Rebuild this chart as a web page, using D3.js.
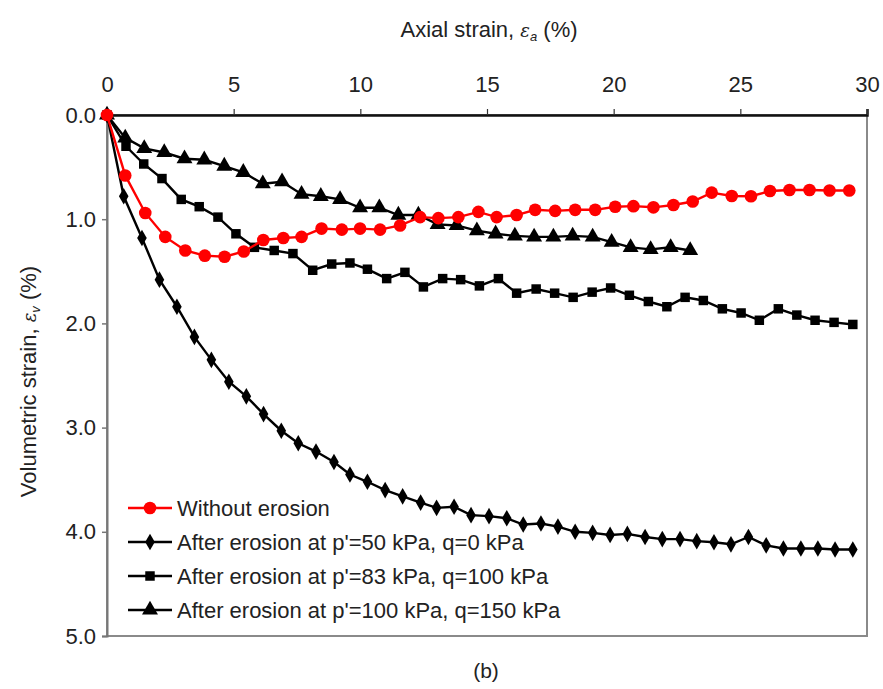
<!DOCTYPE html>
<html>
<head>
<meta charset="utf-8">
<script src="https://cdn.jsdelivr.net/npm/d3@7/dist/d3.min.js"></script>
<style>
  body { margin: 0; background: #fff; }
  svg { font-family: "Liberation Sans", Arial, sans-serif; }
</style>
</head>
<body>
<div id="chart"></div>
<script>
// axial strain (%) / volumetric strain (%)
const redX = [0, 0.72, 1.51, 2.30, 3.09, 3.86, 4.64, 5.40, 6.17, 6.96, 7.68, 8.47, 9.27, 9.99, 10.78, 11.57, 12.36, 13.08, 13.87, 14.66, 15.38, 16.17, 16.90, 17.69, 18.48, 19.27, 20.06, 20.78, 21.57, 22.36, 23.12, 23.87, 24.66, 25.42, 26.17, 26.94, 27.73, 28.52, 29.30];
const redY = [0, 0.58, 0.94, 1.17, 1.30, 1.35, 1.36, 1.31, 1.20, 1.18, 1.17, 1.09, 1.10, 1.09, 1.10, 1.06, 0.98, 0.99, 0.98, 0.93, 0.98, 0.96, 0.91, 0.92, 0.91, 0.91, 0.88, 0.875, 0.886, 0.864, 0.83, 0.745, 0.777, 0.78, 0.73, 0.72, 0.72, 0.725, 0.725];

const diaX = [0, 0.66, 1.38, 2.07, 2.76, 3.45, 4.12, 4.81, 5.50, 6.18, 6.88, 7.55, 8.25, 8.96, 9.59, 10.28, 10.98, 11.67, 12.38, 13.01, 13.70, 14.37, 15.08, 15.78, 16.43, 17.13, 17.80, 18.48, 19.17, 19.86, 20.54, 21.24, 21.92, 22.62, 23.28, 23.96, 24.63, 25.32, 26.02, 26.70, 27.39, 28.06, 28.74, 29.44];
const diaY = [0, 0.78, 1.18, 1.58, 1.84, 2.13, 2.35, 2.56, 2.70, 2.87, 3.03, 3.15, 3.23, 3.33, 3.45, 3.52, 3.60, 3.66, 3.72, 3.77, 3.76, 3.84, 3.85, 3.87, 3.93, 3.92, 3.95, 4.00, 4.01, 4.03, 4.02, 4.05, 4.07, 4.07, 4.09, 4.10, 4.12, 4.05, 4.13, 4.16, 4.16, 4.16, 4.17, 4.17];

const sqX = [0, 0.75, 1.45, 2.17, 2.93, 3.64, 4.38, 5.09, 5.82, 6.60, 7.34, 8.12, 8.87, 9.59, 10.28, 11.04, 11.76, 12.49, 13.25, 13.96, 14.70, 15.45, 16.17, 16.94, 17.67, 18.40, 19.15, 19.88, 20.62, 21.37, 22.10, 22.82, 23.54, 24.29, 25.03, 25.75, 26.50, 27.23, 27.95, 28.70, 29.44];
const sqY = [0, 0.30, 0.47, 0.61, 0.81, 0.88, 0.98, 1.14, 1.27, 1.30, 1.33, 1.49, 1.43, 1.42, 1.48, 1.57, 1.51, 1.65, 1.57, 1.58, 1.64, 1.57, 1.71, 1.67, 1.71, 1.75, 1.70, 1.66, 1.73, 1.79, 1.84, 1.75, 1.78, 1.86, 1.90, 1.97, 1.86, 1.92, 1.97, 1.99, 2.01];

const triX = [0, 0.72, 1.47, 2.26, 3.06, 3.84, 4.63, 5.38, 6.15, 6.91, 7.68, 8.44, 9.20, 9.99, 10.75, 11.50, 12.29, 13.05, 13.80, 14.60, 15.34, 16.10, 16.86, 17.62, 18.38, 19.17, 19.92, 20.67, 21.46, 22.25, 23.02];
const triY = [0, 0.22, 0.32, 0.36, 0.42, 0.43, 0.49, 0.55, 0.66, 0.64, 0.76, 0.78, 0.81, 0.89, 0.89, 0.96, 0.96, 1.05, 1.06, 1.11, 1.14, 1.16, 1.17, 1.17, 1.16, 1.17, 1.22, 1.27, 1.29, 1.27, 1.30];

const xTicks = [0, 5, 10, 15, 20, 25, 30];
const yTicks = [0, 1, 2, 3, 4, 5];
const legendLabels = [
    "Without erosion",
    "After erosion at p'=50 kPa, q=0 kPa",
    "After erosion at p'=83 kPa, q=100 kPa",
    "After erosion at p'=100 kPa, q=150 kPa"
];

const width = 883, height = 689;
const margin = { top: 115, right: 16, bottom: 53, left: 107 };

const svg = d3.select("#chart").append("svg")
    .attr("width", width)
    .attr("height", height);

const x = d3.scaleLinear().domain([0, 30]).range([margin.left, width - margin.right]);
const y = d3.scaleLinear().domain([0, 5]).range([margin.top, height - margin.bottom]);

// plot frame (grey right/bottom)
svg.append("rect")
    .attr("x", x(0)).attr("y", y(0))
    .attr("width", x(30) - x(0)).attr("height", y(5) - y(0))
    .attr("fill", "none").attr("stroke", "#8a8a8a").attr("stroke-width", 2);

// top axis
const xAxis = svg.append("g")
    .attr("transform", `translate(0,${y(0)})`)
    .call(d3.axisTop(x).tickValues(xTicks).tickSize(6).tickPadding(17).tickFormat(d3.format("d")));
xAxis.select(".domain").attr("stroke", "#111").attr("stroke-width", 2.5);
xAxis.selectAll(".tick line").attr("stroke", "#333").attr("stroke-width", 1.2);
xAxis.selectAll("text").attr("font-size", 22).attr("fill", "#222");

// left axis
const yAxis = svg.append("g")
    .attr("transform", `translate(${x(0)},0)`)
    .call(d3.axisLeft(y).tickValues(yTicks).tickSize(5).tickPadding(6).tickFormat(d3.format(".1f")));
yAxis.select(".domain").attr("stroke", "#777").attr("stroke-width", 2);
yAxis.selectAll(".tick line").attr("stroke", "#777").attr("stroke-width", 1.5);
yAxis.selectAll("text").attr("font-size", 22).attr("fill", "#222");

// axis titles
const xt = svg.append("text")
    .attr("x", (x(0) + x(30)) / 2 + 2).attr("y", 37)
    .attr("text-anchor", "middle").attr("font-size", 22).attr("fill", "#222");
xt.append("tspan").text("Axial strain, ");
xt.append("tspan").attr("font-style", "italic").attr("font-family", "DejaVu Serif, serif").attr("font-size", 18).text("ε");
xt.append("tspan").attr("font-style", "italic").attr("font-size", 13).attr("dy", 4).text("a");
xt.append("tspan").attr("dy", -4).text(" (%)");

const yt = svg.append("text")
    .attr("transform", `translate(36,${(y(0) + y(5)) / 2 + 6}) rotate(-90)`)
    .attr("text-anchor", "middle").attr("font-size", 22).attr("fill", "#222");
yt.append("tspan").text("Volumetric strain, ");
yt.append("tspan").attr("font-style", "italic").attr("font-family", "DejaVu Serif, serif").attr("font-size", 18).text("ε");
yt.append("tspan").attr("font-style", "italic").attr("font-size", 13).attr("dy", 4).text("v");
yt.append("tspan").attr("dy", -4).text(" (%)");

svg.append("text")
    .attr("x", x(15) - 1).attr("y", 678)
    .attr("text-anchor", "middle").attr("font-size", 21).attr("fill", "#222")
    .text("(b)");

// series
const series = [
    { xs: redX, ys: redY, color: "#ff0000", symbol: d3.symbolCircle, size: 125 },
    { xs: diaX, ys: diaY, color: "#000", symbol: d3.symbolDiamond, size: 80 },
    { xs: sqX, ys: sqY, color: "#000", symbol: d3.symbolSquare, size: 90 },
    { xs: triX, ys: triY, color: "#000", symbol: d3.symbolTriangle, size: 110 }
];

const line = d3.line().x(d => x(d[0])).y(d => y(d[1]));

// draw black series first, red on top at the crossings
[1, 2, 3, 0].forEach(i => {
    const s = series[i];
    const pts = s.xs.map((v, j) => [v, s.ys[j]]);
    const g = svg.append("g");
    g.append("path").datum(pts)
        .attr("d", line)
        .attr("fill", "none")
        .attr("stroke", s.color)
        .attr("stroke-width", 2.4);
    g.selectAll("path.mk").data(pts).join("path")
        .attr("class", "mk")
        .attr("transform", d => `translate(${x(d[0])},${y(d[1])})`)
        .attr("d", d3.symbol().type(s.symbol).size(s.size))
        .attr("fill", s.color);
});

// legend
const legend = svg.append("g").attr("transform", "translate(128,508)");
legendLabels.forEach((lab, i) => {
    const s = series[i];
    const row = legend.append("g").attr("transform", `translate(0,${i * 34})`);
    row.append("line").attr("x1", 0).attr("x2", 44).attr("y1", 0).attr("y2", 0)
        .attr("stroke", s.color).attr("stroke-width", 2.4);
    row.append("path").attr("transform", "translate(22,0)")
        .attr("d", d3.symbol().type(s.symbol).size(s.size))
        .attr("fill", s.color);
    row.append("text").attr("x", 49).attr("y", 8)
        .attr("font-size", 22).attr("fill", "#222")
        .text(lab);
});
</script>
</body>
</html>
